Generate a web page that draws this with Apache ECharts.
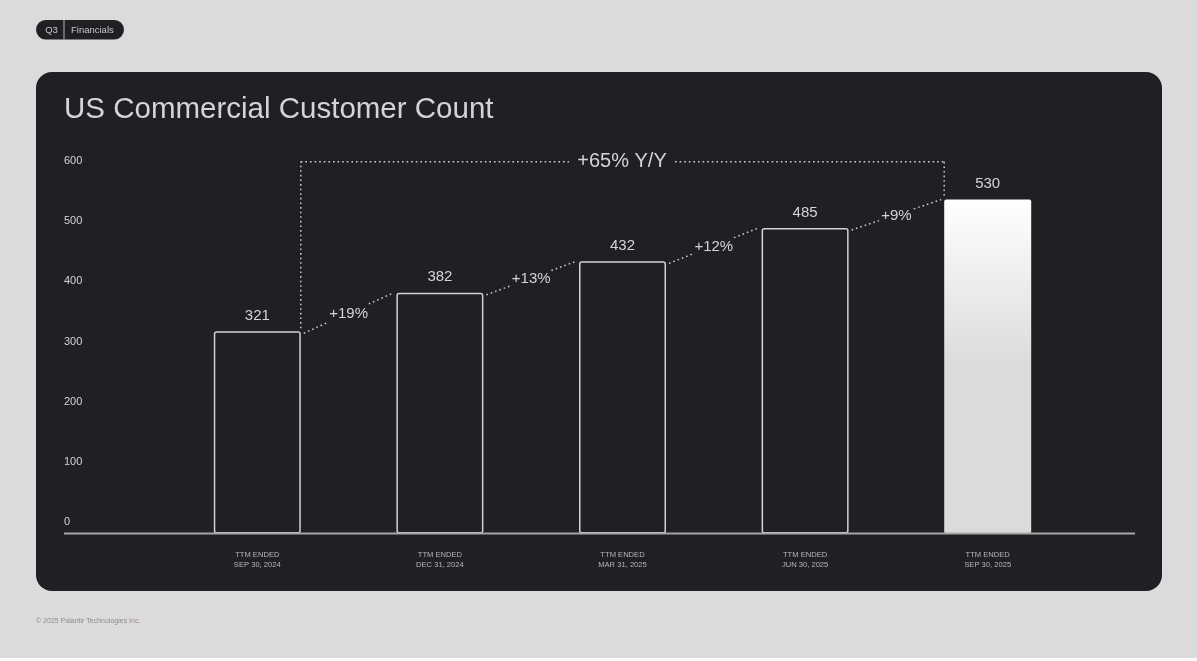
<!DOCTYPE html>
<html>
<head>
<meta charset="utf-8">
<style>
    html, body { margin: 0; padding: 0; background: #fdfbfb; }
    #chart_container { width: 1197px; height: 658px; }
</style>
<script src="https://cdn.jsdelivr.net/npm/echarts@6/dist/echarts.min.js"></script>
</head>
<body>
<div id="chart_container"></div>
<script>
"strict mode";

const categories = [
    'TTM ENDED\nSEP 30, 2024',
    'TTM ENDED\nDEC 31, 2024',
    'TTM ENDED\nMAR 31, 2025',
    'TTM ENDED\nJUN 30, 2025',
    'TTM ENDED\nSEP 30, 2025',
];
const customers = [321, 382, 432, 485, 530];
const growth = ['+19%', '+13%', '+12%', '+9%'];
const yearOverYear = '+65% Y/Y';
const bracketLevel = 590;
const yTicks = [0, 100, 200, 300, 400, 500, 600];

const bg = '#dddadb';
const card = '#1f2024';
const ink = '#d6d3d4';
const fontName = '"Liberation Sans"';
const barW = 87;
const baseY = 533.5;
const dotted = { stroke: '#cbc9c9', lineWidth: 1.5, lineDash: [1.6, 3] };

let myChart = echarts.init(document.getElementById('chart_container'));

// one dotted segment, as a custom series child
let seg = (x1, y1, x2, y2) => ({
    type: 'line',
    shape: { x1, y1, x2, y2 },
    style: dotted,
});

// dotted link between two neighbouring bars, broken around the percent
let renderLink = (params, api) => {
    let i = params.dataIndex;
    let a = api.coord([i, customers[i]]);
    let b = api.coord([i + 1, customers[i + 1]]);
    let x1 = a[0] + barW / 2 + 3, y1 = a[1] + 2;
    let x2 = b[0] - barW / 2 - 3, y2 = b[1];
    let mx = (x1 + x2) / 2, my = (y1 + y2) / 2;
    let gap = 9 + growth[i].length * 2.8;
    let t = gap / (x2 - x1);
    return {
        type: 'group',
        children: [
            seg(x1, y1, mx - gap, my - (y2 - y1) * t),
            seg(mx + gap, my + (y2 - y1) * t, x2, y2),
            {
                type: 'text',
                style: {
                    x: mx, y: my + 1, text: growth[i], fill: ink,
                    font: `15px ${fontName}`, align: 'center', verticalAlign: 'middle',
                },
            },
        ],
    };
};

// +65% bracket from the first bar to the last
let renderBracket = (params, api) => {
    let last = customers.length - 1;
    let a = api.coord([0, customers[0]]);
    let b = api.coord([last, customers[last]]);
    let top = api.coord([0, bracketLevel])[1];
    let xl = a[0] + barW / 2, xr = b[0] - barW / 2;
    let mx = (a[0] + b[0]) / 2 - 0.5;
    return {
        type: 'group',
        children: [
            seg(xl, a[1] - 3, xl, top),
            seg(xl, top, mx - 53, top),
            seg(mx + 53, top, xr, top),
            seg(xr, top, xr, b[1] - 1),
            {
                type: 'text',
                style: {
                    x: mx, y: top, text: yearOverYear, fill: ink,
                    font: `20px ${fontName}`, align: 'center', verticalAlign: 'middle',
                },
            },
        ],
    };
};

let barData = customers.map((v, i) => {
    if (i < customers.length - 1) return v;
    return {
        value: v,
        itemStyle: {
            borderWidth: 0,
            color: new echarts.graphic.LinearGradient(0, 0, 0, 1, [
                { offset: 0, color: '#ffffff' },
                { offset: 0.5, color: bg },
                { offset: 1, color: bg },
            ]),
        },
    };
});

myChart.setOption({
    animation: false,
    backgroundColor: bg,
    textStyle: { fontFamily: fontName },
    grid: [
        // bars
        { left: 166, width: 913, top: baseY - 378, height: 378 },
        // the tick labels sit on their own, tighter, ruler
        { left: 64, width: 1071, top: 161, height: 361 },
    ],
    xAxis: [
        {
            type: 'category', gridIndex: 0, data: categories,
            axisLine: { show: false }, axisTick: { show: false },
            axisLabel: { color: '#b9b7b7', fontFamily: fontName, fontSize: 7.6, lineHeight: 10, margin: 16 },
        },
        { type: 'category', gridIndex: 1, data: categories, show: false },
    ],
    yAxis: [
        { type: 'value', gridIndex: 0, min: 0, max: 600, show: false },
        {
            type: 'value', gridIndex: 1, min: yTicks[0], max: yTicks[yTicks.length - 1], interval: 100,
            axisLine: { show: false }, axisTick: { show: false }, splitLine: { show: false },
            axisLabel: { inside: true, margin: 0, color: ink, fontFamily: fontName, fontSize: 11, align: 'left' },
        },
    ],
    series: [
        {
            type: 'bar', data: barData, barWidth: barW,
            itemStyle: { color: 'transparent', borderColor: '#d4d1d1', borderWidth: 1.5, borderRadius: 2 },
            label: { show: true, position: 'top', distance: 8, color: ink, fontFamily: fontName, fontSize: 15 },
        },
        { type: 'custom', data: growth, renderItem: renderLink, clip: false, silent: true, z: 5 },
        { type: 'custom', data: [yearOverYear], renderItem: renderBracket, clip: false, silent: true, z: 5 },
        { type: 'bar', xAxisIndex: 1, yAxisIndex: 1, data: [], silent: true },
    ],
    graphic: [
        // card
        { type: 'rect', z: -10, shape: { x: 36, y: 72, width: 1126, height: 519, r: 16 },
            style: { fill: card } },
        { type: 'text', z: -5, style: { x: 64, y: 110, text: 'US Commercial Customer Count', fill: ink,
            font: `29.5px ${fontName}`, verticalAlign: 'middle' } },
        // baseline
        { type: 'line', z: 10, shape: { x1: 64, y1: baseY, x2: 1135, y2: baseY },
            style: { stroke: '#a8a6a6', lineWidth: 2 } },
        // pill
        { type: 'rect', shape: { x: 36, y: 20, width: 88, height: 19.5, r: 9.75 }, style: { fill: card } },
        { type: 'line', shape: { x1: 64, y1: 20, x2: 64, y2: 39.5 }, style: { stroke: '#b5b3b3', lineWidth: 1 } },
        { type: 'text', style: { x: 51.5, y: 30, text: 'Q3', fill: '#c9c6c6', font: `9.5px ${fontName}`,
            align: 'center', verticalAlign: 'middle' } },
        { type: 'text', style: { x: 71, y: 30, text: 'Financials', fill: '#c9c6c6', font: `9.5px ${fontName}`,
            verticalAlign: 'middle' } },
        // footer
        { type: 'text', style: { x: 36, y: 621, text: '© 2025 Palantir Technologies Inc.', fill: '#8e8c8c',
            font: `7px ${fontName}`, verticalAlign: 'middle' } },
    ],
});
</script>
</body>
</html>
